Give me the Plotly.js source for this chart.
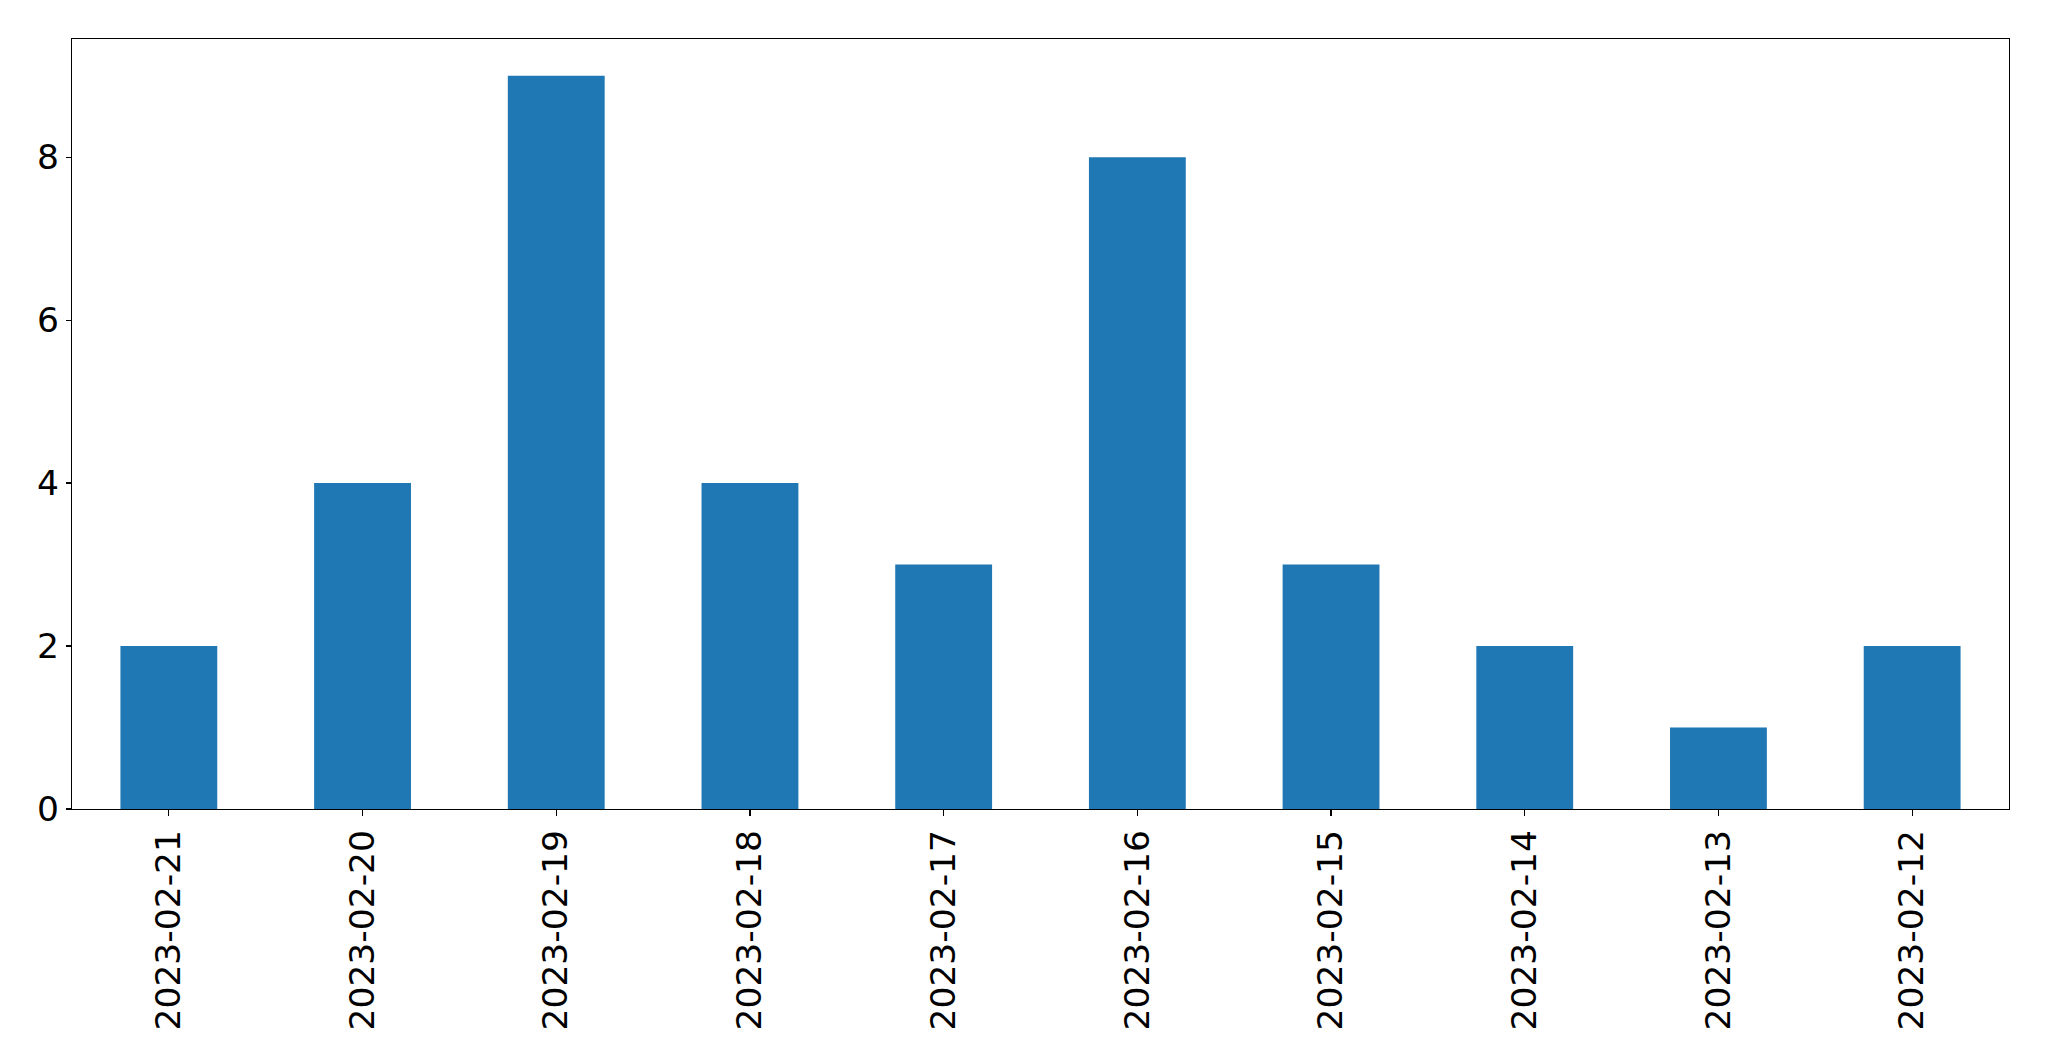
<!DOCTYPE html>
<html>
<head>
<meta charset="utf-8">
<script src="https://cdn.plot.ly/plotly-3.0.1.min.js"></script>
<style>html,body{margin:0;padding:0;background:#fff;}#chart{width:2049px;height:1061px;}</style>
</head>
<body>
<div id="chart"></div>
<script>
const categories = ["2023-02-21","2023-02-20","2023-02-19","2023-02-18","2023-02-17","2023-02-16","2023-02-15","2023-02-14","2023-02-13","2023-02-12"];
const values = [2, 4, 9, 4, 3, 8, 3, 2, 1, 2];
const yTicks = [0, 2, 4, 6, 8];

const trace = {
  type: 'bar',
  x: categories,
  y: values,
  width: 0.5,
  marker: {color: '#1f77b4', line: {width: 0}},
  hoverinfo: 'x+y'
};

const layout = {
  width: 2049,
  height: 1061,
  paper_bgcolor: '#ffffff',
  plot_bgcolor: '#ffffff',
  margin: {l: 72, r: 40, t: 39, b: 252, pad: 0},
  showlegend: false,
  font: {family: 'DejaVu Sans, sans-serif', size: 34.5, color: '#000000'},
  xaxis: {
    type: 'category',
    range: [-0.5, categories.length - 0.5],
    tickangle: -90,
    ticks: 'outside',
    ticklen: 6,
    tickwidth: 1.2,
    tickcolor: '#000',
    showline: true,
    linecolor: '#000',
    linewidth: 1.2,
    mirror: true,
    showgrid: false,
    zeroline: false,
    tickfont: {family: 'DejaVu Sans, sans-serif', size: 34.5, color: '#000'}
  },
  yaxis: {
    range: [0, 9.45],
    tickvals: yTicks,
    ticktext: yTicks.map(String),
    ticks: 'outside',
    ticklen: 5,
    tickwidth: 1.2,
    tickcolor: '#000',
    showline: true,
    linecolor: '#000',
    linewidth: 1.2,
    mirror: true,
    showgrid: false,
    zeroline: false,
    tickfont: {family: 'DejaVu Sans, sans-serif', size: 34.5, color: '#000'}
  }
};

Plotly.newPlot('chart', [trace], layout, {displayModeBar: false, staticPlot: true});
</script>
</body>
</html>
